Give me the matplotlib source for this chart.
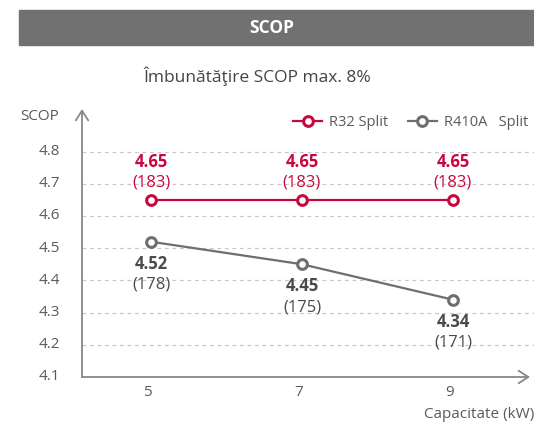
import matplotlib.pyplot as plt
import matplotlib.patches as mpatches

plt.rcParams['font.family'] = ['Open Sans', 'DejaVu Sans']

capacity = [5, 7, 9]
r32_scop = [4.65, 4.65, 4.65]
r32_pct = ['(183)', '(183)', '(183)']
r410_scop = [4.52, 4.45, 4.34]
r410_pct = ['(178)', '(175)', '(171)']
yticks = [4.1, 4.2, 4.3, 4.4, 4.5, 4.6, 4.7, 4.8]

red = '#c8073f'
gray = '#6e6e6e'
txt = '#5a5a5a'

fig = plt.figure(figsize=(5.34, 4.25), dpi=100)

# header bar
fig.patches.append(mpatches.Rectangle((19/534, 1-45/425), 1-19/534, 35/425,
                                      transform=fig.transFigure, color='#717171', zorder=0))
fig.text(272/534, 1-28/425, 'SCOP', color='white', fontsize=12.5,
         fontweight='bold', ha='center', va='center')
fig.text(257/534, 1-76/425, 'Îmbunătăţire SCOP max. 8%', color='#444444',
         fontsize=12.5, ha='center', va='center')

ax = fig.add_axes([82/534, 1-377/425, 448/534, 268/425])
ax.set_xlim(4.086, 10.02)
ax.set_ylim(4.1, 4.932)
for s in ax.spines.values():
    s.set_visible(False)

for y in yticks[1:]:
    ax.axhline(y, xmin=0, xmax=1.01, color='#c8c8c8', lw=0.9, ls=(0, (3, 3)),
               clip_on=False, zorder=1)

ax.annotate('', xy=(0, 1), xytext=(0, 0), xycoords='axes fraction',
            arrowprops=dict(arrowstyle='->,head_length=0.7,head_width=0.45',
                            color='#888888', lw=1.3, shrinkA=0, shrinkB=0))
ax.annotate('', xy=(1, 0), xytext=(0, 0), xycoords='axes fraction',
            arrowprops=dict(arrowstyle='->,head_length=0.7,head_width=0.45',
                            color='#888888', lw=1.3, shrinkA=0, shrinkB=0))

ax.plot(capacity, r32_scop, color=red, lw=1.6, marker='o', ms=7, mfc='white',
        mec=red, mew=2.2, label='R32 Split', zorder=3, clip_on=False)
ax.plot(capacity, r410_scop, color=gray, lw=1.6, marker='o', ms=7, mfc='white',
        mec=gray, mew=2.2, label='R410A   Split', zorder=3, clip_on=False)

for x, y, p in zip(capacity, r32_scop, r32_pct):
    ax.annotate(f'{y:.2f}', (x, y), xytext=(0, 38), textcoords='offset pixels',
                ha='center', va='center', color=red, fontsize=12, fontweight='bold')
    ax.annotate(p, (x, y), xytext=(0, 17), textcoords='offset pixels',
                ha='center', va='center', color=red, fontsize=12)

for x, y, p in zip(capacity, r410_scop, r410_pct):
    ax.annotate(f'{y:.2f}', (x, y), xytext=(0, -22), textcoords='offset pixels',
                ha='center', va='center', color='#4a4a4a', fontsize=12, fontweight='bold')
    ax.annotate(p, (x, y), xytext=(0, -43), textcoords='offset pixels',
                ha='center', va='center', color='#4a4a4a', fontsize=12)

# tick labels
ax.set_xticks([])
ax.set_yticks([])
ytr = ax.get_yaxis_transform()
for v in yticks:
    ax.text(-22/448, v, f'{v:.1f}', transform=ytr, ha='right', va='center',
            color=txt, fontsize=11)
xtr = ax.get_xaxis_transform()
for c in capacity:
    ax.text(c - 0.05, -16/268, str(c), transform=xtr, ha='center', va='center',
            color=txt, fontsize=11)

fig.text(20/534, 1-117/425, 'SCOP', color=txt, fontsize=11, ha='left', va='center')
fig.text(534/534, 1-414/425, 'Capacitate (kW)', color=txt, fontsize=11,
         ha='right', va='center')

ax.legend(loc='center left', bbox_to_anchor=(211/448, (377-123)/268), frameon=False,
          ncol=2, fontsize=10.5, handlelength=2.0, columnspacing=1.3, handletextpad=0.5,
          labelcolor=txt, borderaxespad=0, borderpad=0)

fig.savefig('out.png', dpi=100)
